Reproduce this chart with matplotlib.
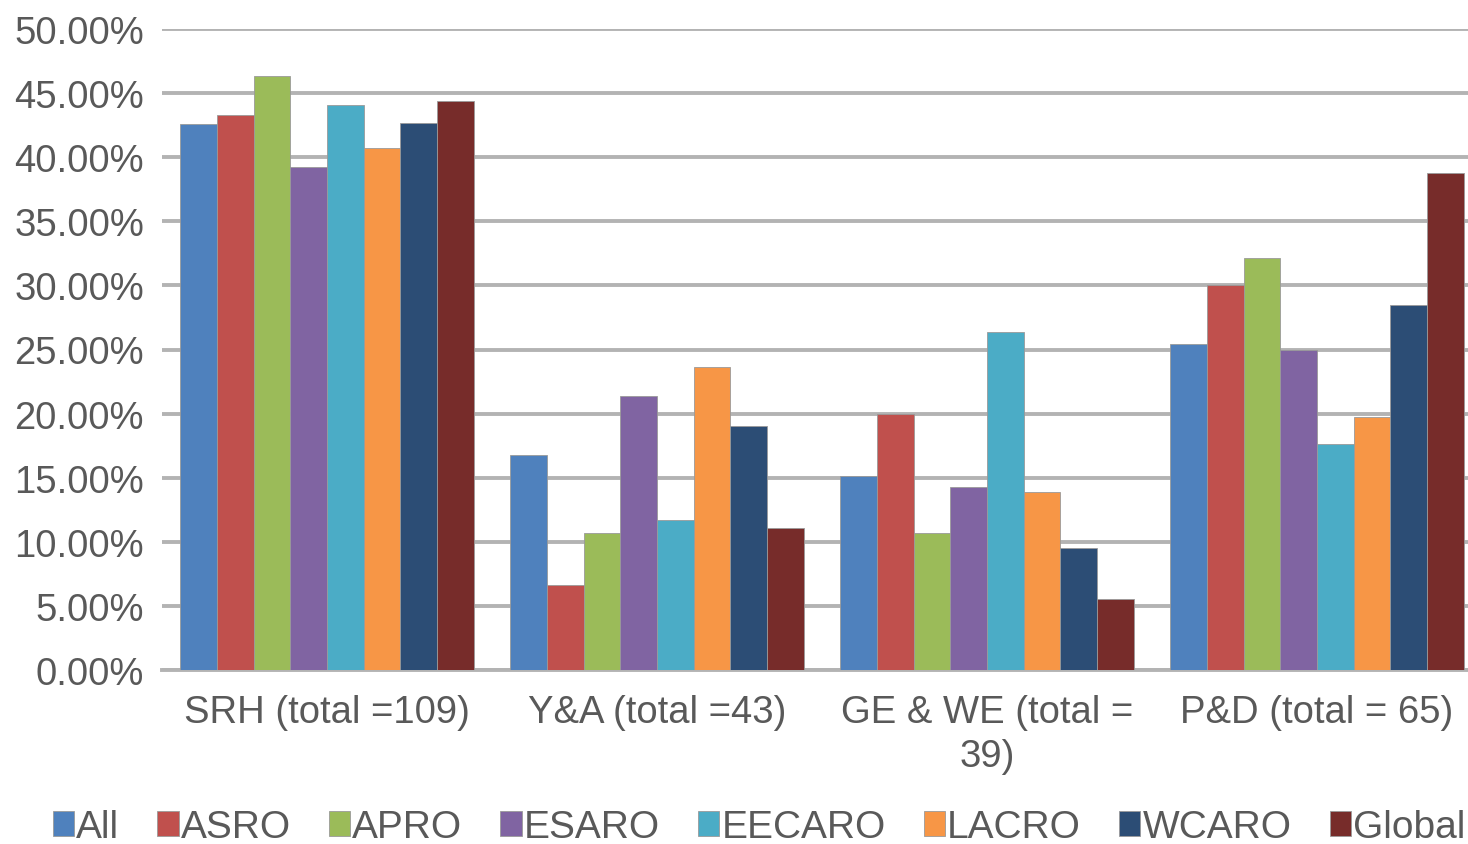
import numpy as np
import matplotlib.pyplot as plt
from matplotlib.ticker import PercentFormatter

plt.rcParams['font.family'] = ['Liberation Sans', 'DejaVu Sans']

categories = ['SRH (total =109)', 'Y&A (total =43)', 'GE & WE (total =\n39)', 'P&D (total = 65)']
series_names = ['All', 'ASRO', 'APRO', 'ESARO', 'EECARO', 'LACRO', 'WCARO', 'Global']
colors = ['#4F81BD', '#C0504D', '#9BBB59', '#8064A2', '#4BACC6', '#F79646', '#2C4D75', '#772C2A']

# percent values per series, one per category
All = [42.6, 16.8, 15.1, 25.4]
ASRO = [43.3, 6.6, 20.0, 30.0]
APRO = [46.3, 10.7, 10.7, 32.1]
ESARO = [39.2, 21.4, 14.3, 25.0]
EECARO = [44.1, 11.7, 26.4, 17.6]
LACRO = [40.7, 23.6, 13.9, 19.7]
WCARO = [42.7, 19.0, 9.5, 28.5]
Global = [44.4, 11.1, 5.5, 38.8]
values = [All, ASRO, APRO, ESARO, EECARO, LACRO, WCARO, Global]

fig = plt.figure(figsize=(14.68, 8.45), dpi=100)
ax = fig.add_axes([162 / 1468, 1 - 671 / 845, (1482 - 162) / 1468, (671 - 30) / 845])

x = np.arange(len(categories))
w = 0.111
for i, (name, vals) in enumerate(zip(series_names, values)):
    ax.bar(x + (i - 3.5) * w, vals, w, color=colors[i], label=name,
           edgecolor='#9a9a9a', linewidth=0.6, zorder=3)

ax.set_xlim(-0.5, 3.5)
ax.set_ylim(0, 50)
ax.set_yticks(np.arange(0, 51, 5))
ax.yaxis.set_major_formatter(PercentFormatter(decimals=2))
ax.grid(axis='y', color='#b3b3b3', linewidth=2.8, zorder=0)
ax.set_axisbelow(True)
for s in ['top', 'right', 'left']:
    ax.spines[s].set_visible(False)
ax.spines['bottom'].set_color('#b3b3b3')
ax.spines['bottom'].set_linewidth(2.8)
ax.tick_params(axis='both', length=0, labelsize=27.5, colors='#595959')
ax.tick_params(axis='y', pad=13)
ax.tick_params(axis='x', pad=17)
ax.set_xticks(x)
ax.set_xticklabels(categories, linespacing=1.3)

fig.legend(loc='center', bbox_to_anchor=(759 / 1468, 1 - 828 / 845), ncol=8, frameon=False,
           fontsize=28, handlelength=0.55, handleheight=0.6, handletextpad=0.05,
           columnspacing=0.98, labelcolor='#595959', borderpad=0.1)

fig.savefig('out.png', dpi=100)
